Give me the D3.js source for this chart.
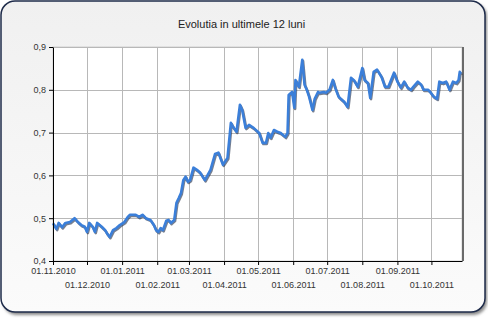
<!DOCTYPE html>
<html>
<head>
<meta charset="utf-8">
<script src="https://cdn.jsdelivr.net/npm/d3@7"></script>
<style>
    body { margin: 0; background: #fff; }
</style>
</head>
<body>
<div id="chart"></div>
<script>
const title = "Evolutia in ultimele 12 luni";
const xStart = "2010-11-01";
const xEnd = "2011-10-28";
const yTicks = [0.4, 0.5, 0.6, 0.7, 0.8, 0.9];

const dates = [
    "2010-11-01", "2010-11-02", "2010-11-04", "2010-11-06", "2010-11-09", "2010-11-12", "2010-11-16",
    "2010-11-20", "2010-11-23", "2010-11-26", "2010-11-29", "2010-12-01", "2010-12-03", "2010-12-06",
    "2010-12-08", "2010-12-10", "2010-12-14", "2010-12-17", "2010-12-19", "2010-12-21", "2010-12-24",
    "2010-12-27", "2010-12-30", "2011-01-03", "2011-01-06", "2011-01-08", "2011-01-13", "2011-01-16",
    "2011-01-19", "2011-01-22", "2011-01-26", "2011-01-29", "2011-01-31", "2011-02-02", "2011-02-04",
    "2011-02-06", "2011-02-09", "2011-02-11", "2011-02-13", "2011-02-16", "2011-02-18", "2011-02-20",
    "2011-02-22", "2011-02-24", "2011-02-26", "2011-02-28", "2011-03-02", "2011-03-05", "2011-03-08",
    "2011-03-11", "2011-03-15", "2011-03-20", "2011-03-24", "2011-03-27", "2011-03-31", "2011-04-04",
    "2011-04-07", "2011-04-09", "2011-04-12", "2011-04-15", "2011-04-17", "2011-04-20", "2011-04-23",
    "2011-04-27", "2011-05-02", "2011-05-05", "2011-05-08", "2011-05-10", "2011-05-12", "2011-05-15",
    "2011-05-18", "2011-05-21", "2011-05-25", "2011-05-27", "2011-05-28", "2011-05-31", "2011-06-02",
    "2011-06-03", "2011-06-06", "2011-06-09", "2011-06-11", "2011-06-13", "2011-06-15", "2011-06-18",
    "2011-06-20", "2011-06-23", "2011-06-24", "2011-06-28", "2011-06-30", "2011-07-03", "2011-07-06",
    "2011-07-08", "2011-07-11", "2011-07-13", "2011-07-16", "2011-07-19", "2011-07-22", "2011-07-25",
    "2011-07-28", "2011-08-01", "2011-08-03", "2011-08-06", "2011-08-08", "2011-08-11", "2011-08-14",
    "2011-08-18", "2011-08-21", "2011-08-24", "2011-08-29", "2011-09-01", "2011-09-04", "2011-09-07",
    "2011-09-10", "2011-09-13", "2011-09-15", "2011-09-19", "2011-09-22", "2011-09-24", "2011-09-28",
    "2011-09-30", "2011-10-03", "2011-10-06", "2011-10-08", "2011-10-11", "2011-10-14", "2011-10-17",
    "2011-10-20", "2011-10-23", "2011-10-25", "2011-10-26", "2011-10-27"
];

const values = [
    0.488, 0.484, 0.475, 0.489, 0.479, 0.489, 0.491,
    0.500, 0.491, 0.484, 0.480, 0.468, 0.489, 0.480,
    0.468, 0.489, 0.480, 0.472, 0.463, 0.456, 0.472,
    0.477, 0.484, 0.491, 0.503, 0.508, 0.508, 0.503,
    0.508, 0.500, 0.496, 0.484, 0.472, 0.468, 0.477,
    0.472, 0.494, 0.496, 0.489, 0.496, 0.536, 0.547,
    0.559, 0.589, 0.597, 0.585, 0.589, 0.618, 0.613,
    0.606, 0.589, 0.613, 0.650, 0.653, 0.625, 0.641,
    0.723, 0.713, 0.702, 0.765, 0.753, 0.711, 0.718,
    0.711, 0.699, 0.676, 0.676, 0.699, 0.688, 0.706,
    0.702, 0.699, 0.690, 0.699, 0.788, 0.795, 0.758,
    0.823, 0.807, 0.870, 0.812, 0.800, 0.784, 0.753,
    0.779, 0.795, 0.793, 0.795, 0.793, 0.800, 0.823,
    0.805, 0.784, 0.779, 0.772, 0.760, 0.828, 0.821,
    0.807, 0.851, 0.823, 0.816, 0.781, 0.842, 0.847,
    0.830, 0.807, 0.807, 0.840, 0.819, 0.805, 0.819,
    0.805, 0.800, 0.807, 0.819, 0.812, 0.800, 0.800,
    0.795, 0.784, 0.779, 0.819, 0.816, 0.819, 0.800,
    0.819, 0.816, 0.823, 0.842, 0.837
];

const parseDate = d3.timeParse("%Y-%m-%d");
const data = dates.map((d, i) => ({ date: parseDate(d), value: values[i] }));

const width = 488;
const height = 318;
const margin = { top: 47, right: 26, bottom: 57, left: 53 };

const svg = d3.select("#chart")
    .append("svg")
    .attr("width", width)
    .attr("height", height)
    .style("font-family", "'Liberation Sans', Arial, sans-serif");

const defs = svg.append("defs");
const grad = defs.append("linearGradient")
    .attr("id", "bg")
    .attr("x1", 0).attr("y1", 0).attr("x2", 0).attr("y2", 1);
grad.append("stop").attr("offset", "0%").attr("stop-color", "#f0f0f0");
grad.append("stop").attr("offset", "100%").attr("stop-color", "#fbfbfb");

const blur = defs.append("filter").attr("id", "blur");
blur.append("feGaussianBlur").attr("stdDeviation", 1.5);

// frame with shadow
svg.append("rect")
    .attr("x", 3).attr("y", 3)
    .attr("width", 484).attr("height", 312)
    .attr("rx", 14)
    .attr("fill", "#8a8a8a")
    .attr("filter", "url(#blur)");

svg.append("rect")
    .attr("x", 1).attr("y", 1)
    .attr("width", 484).attr("height", 311)
    .attr("rx", 14)
    .attr("fill", "url(#bg)")
    .attr("stroke", "#1e2b4a")
    .attr("stroke-width", 1.5);

svg.append("text")
    .attr("x", 241.5)
    .attr("y", 28)
    .attr("text-anchor", "middle")
    .attr("font-size", "11px")
    .attr("fill", "#222")
    .text(title);

const x = d3.scaleTime()
    .domain([parseDate(xStart), parseDate(xEnd)])
    .range([margin.left, width - margin.right]);

const y = d3.scaleLinear()
    .domain([0.4, 0.9])
    .range([height - margin.bottom, margin.top]);

// plot area
svg.append("rect")
    .attr("x", margin.left)
    .attr("y", margin.top)
    .attr("width", width - margin.left - margin.right)
    .attr("height", height - margin.top - margin.bottom)
    .attr("fill", "#fff")
    .attr("stroke", "#d0d0d0");

svg.append("line")
    .attr("x1", width - margin.right + 1).attr("x2", width - margin.right + 1)
    .attr("y1", margin.top).attr("y2", height - margin.bottom)
    .attr("stroke", "#6a6a6a")
    .attr("stroke-width", 2);

const months = x.ticks(d3.timeMonth.every(1));

const grid = svg.append("g")
    .attr("stroke", "#b8b8b8")
    .attr("stroke-width", 1);

grid.selectAll(".vg")
    .data(months.slice(1))
    .join("line")
    .attr("x1", d => Math.round(x(d)) + 0.5)
    .attr("x2", d => Math.round(x(d)) + 0.5)
    .attr("y1", margin.top)
    .attr("y2", height - margin.bottom);

grid.selectAll(".hg")
    .data(yTicks.slice(1))
    .join("line")
    .attr("x1", margin.left)
    .attr("x2", width - margin.right)
    .attr("y1", d => Math.round(y(d)) + 0.5)
    .attr("y2", d => Math.round(y(d)) + 0.5);

// line with a dark shadow below it
const line = d3.line()
    .x(d => x(d.date))
    .y(d => y(d.value));

svg.append("path")
    .datum(data)
    .attr("fill", "none")
    .attr("stroke", "#1d2a45")
    .attr("stroke-opacity", 0.6)
    .attr("stroke-width", 2.6)
    .attr("stroke-linejoin", "round")
    .attr("transform", "translate(0.8,1.2)")
    .attr("d", line);

svg.append("path")
    .datum(data)
    .attr("fill", "none")
    .attr("stroke", "#3b7fd9")
    .attr("stroke-width", 2.6)
    .attr("stroke-linejoin", "round")
    .attr("d", line);

function yAxis(g) {
    g.attr("transform", `translate(${margin.left}, 0)`)
        .call(d3.axisLeft(y)
            .tickValues(yTicks)
            .tickSize(4)
            .tickSizeOuter(0)
            .tickFormat(d => d3.format(".1f")(d).replace(".", ",")))
        .attr("font-size", "9px")
        .attr("font-family", null);
    g.selectAll("text").attr("fill", "#333");
}

function xAxis(g) {
    g.attr("transform", `translate(0,${height - margin.bottom})`)
        .call(d3.axisBottom(x)
            .tickValues(months)
            .tickSize(4)
            .tickSizeOuter(0)
            .tickFormat(d3.timeFormat("%d.%m.%Y")))
        .attr("font-size", "9px")
        .attr("font-family", null);
    g.selectAll("text")
        .attr("fill", "#333")
        .attr("y", (d, i) => i % 2 === 0 ? 7 : 21);
}

svg.append("g").call(xAxis);
svg.append("g").call(yAxis);
</script>
</body>
</html>
